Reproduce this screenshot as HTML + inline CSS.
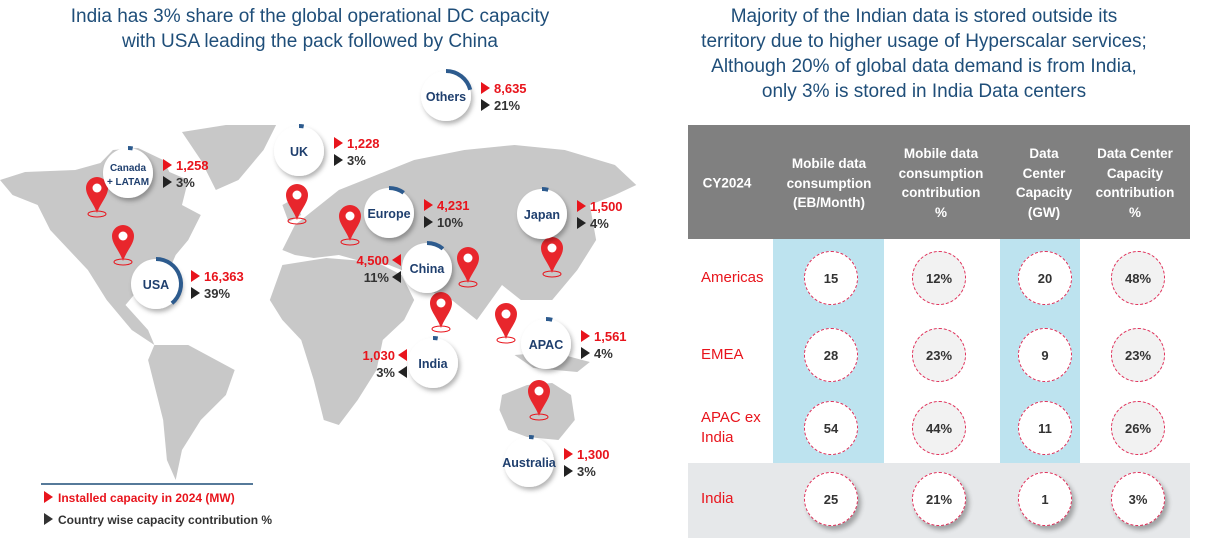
<!DOCTYPE html>
<html><head><meta charset="utf-8">
<style>
body{margin:0;width:1209px;height:541px;background:#fff;font-family:"Liberation Sans",sans-serif;overflow:hidden;position:relative}
.title{position:absolute;text-align:center;color:#1f4e79;font-size:19px;line-height:25px}
.tbl{position:absolute;left:688px;top:125px;width:502px;height:413px}
.hdr{position:absolute;top:0;height:114px;background:#808080;left:0;width:502px}
.hc{position:absolute;color:#fff;font-weight:bold;font-size:13.5px;text-align:center;line-height:19.5px;transform:translate(-50%,-50%)}
.rl{position:absolute;color:#e8141c;font-size:15px;line-height:20px}
.c{position:absolute;width:52px;height:52px;border-radius:50%;border:1.5px dashed #e0305a;transform:translate(-50%,-50%);display:flex;align-items:center;justify-content:center;font-weight:bold;font-size:13px;color:#333}
.lab{position:absolute;font-size:13px;font-weight:bold;white-space:nowrap}
</style></head><body>
<div class="title" style="left:10px;width:600px;top:4px">India has 3% share of the global operational DC capacity<br>with USA leading the pack followed by China</div>
<div class="title" style="left:664px;width:520px;top:4px">Majority of the Indian data is stored outside its<br>territory due to higher usage of Hyperscalar services;<br>Although 20% of global data demand is from India,<br>only 3% is stored in India Data centers</div>

<svg id="map" width="660" height="541" style="position:absolute;left:0;top:0">
<defs><filter id="sh" x="-30%" y="-30%" width="170%" height="170%"><feDropShadow dx="2" dy="3" stdDeviation="2.5" flood-color="#000" flood-opacity="0.3"/></filter></defs>
<g fill="#c8c8c8" transform="scale(1.255,1)">
<polygon points="0,180 20,172 60,170 80,163 90,150 110,148 130,160 135,172 150,180 145,205 160,215 150,240 140,255 132,278 135,300 125,290 110,290 100,305 118,330 123,345 105,330 85,300 70,270 55,250 40,230 30,205 10,195"/>
<polygon points="145,132 180,125 220,125 210,150 190,180 172,190 160,160"/>
<polygon points="123,345 150,345 187,370 180,395 160,420 145,450 140,480 133,460 130,420 122,380 118,360"/>
<polygon points="225,250 235,225 255,205 270,190 300,175 330,160 370,150 410,145 450,150 490,165 507,185 490,195 470,205 475,240 460,270 440,300 415,300 400,285 380,320 360,300 340,290 330,275 310,265 290,262 270,255 250,258 235,255"/>
<polygon points="225,265 260,258 300,262 320,275 330,300 322,320 305,340 300,370 285,400 270,425 258,420 250,380 240,340 225,320 215,300"/>
<polygon points="400,395 420,385 440,383 455,395 458,420 445,440 420,437 405,430 398,410"/>
<polygon points="410,355 440,352 470,362 460,372 425,368"/>
<polygon points="225,205 235,198 240,215 230,222"/>
</g>
<g id="pins"></g><g id="bubbles"></g>
<line x1="41" y1="484" x2="253" y2="484" stroke="#1f4e79" stroke-width="1.5"/>
<polygon points="44,491 44,503 53,497" fill="#e8141c"/>
<text x="58" y="502" font-size="12" font-weight="bold" fill="#e8141c">Installed capacity in 2024 (MW)</text>
<polygon points="44,513 44,525 53,519" fill="#333"/>
<text x="58" y="524" font-size="12" font-weight="bold" fill="#333">Country wise capacity contribution %</text>
</svg>

<div class="tbl" id="tbl">
<div class="hdr"></div>
<div style="position:absolute;left:85px;top:114px;width:111px;height:224px;background:#bde3ef"></div>
<div style="position:absolute;left:312px;top:114px;width:80px;height:224px;background:#bde3ef"></div>
<div style="position:absolute;left:0;top:338px;width:502px;height:75px;background:#e6e8ea"></div>
</div>

<script>
// map data
const regions=["Others","Canada\n+ LATAM","UK","USA","Europe","Japan","China","India","APAC","Australia"];
const capacityMW=["8,635","1,258","1,228","16,363","4,231","1,500","4,500","1,030","1,561","1,300"];
const sharePct=[21,3,3,39,10,4,11,3,4,3];
const bx=[446,128,299,156,389,542,427,433,546,529],by=[96,173,151,284,213,214,268,363,344,462];
const side=[1,1,1,1,1,1,-1,-1,1,1];
const pinX=[97,123,297,350,468,441,506,552,539],pinY=[200,248,207,228,270,315,326,260,403];
const NS="http://www.w3.org/2000/svg";
const pins=document.getElementById('pins'),bub=document.getElementById('bubbles');
function mk(t,a,p){const e=document.createElementNS(NS,t);for(const k in a)e.setAttribute(k,a[k]);p.appendChild(e);return e;}
pinX.forEach((x,i)=>{const y=pinY[i];
 const g=mk('g',{},pins);
 
 
 mk('ellipse',{cx:x,cy:y+14,rx:9,ry:3,fill:'none',stroke:'#e8141c','stroke-width':1},g);
 mk('path',{d:`M${x} ${y+13} C${x-4} ${y+2} ${x-11} ${y-4} ${x-11} ${y-12} A11 11 0 1 1 ${x+11} ${y-12} C${x+11} ${y-4} ${x+4} ${y+2} ${x} ${y+13}Z`,fill:'#e8262c'},g);
 mk('circle',{cx:x,cy:y-12,r:4.5,fill:'#fff'},g);
});
const R=25;
regions.forEach((n,i)=>{const x=bx[i],y=by[i];
 const g=mk('g',{},bub);
 
 
 mk('circle',{cx:x,cy:y,r:R,fill:'#fff',filter:'url(#sh)'},g);
 const f=sharePct[i]/100,a=f*2*Math.PI,ex=x+R*Math.sin(a),ey=y-R*Math.cos(a);
 mk('path',{d:`M${x} ${y-R} A${R} ${R} 0 ${f>0.5?1:0} 1 ${ex} ${ey}`,fill:'none',stroke:'#2d5b8e','stroke-width':4},g);
 const lines=n.split('\n');
 lines.forEach((l,j)=>{const t=mk('text',{x:x,y:y+5+(j-(lines.length-1)/2)*(lines.length>1?14:0),'text-anchor':'middle','font-size':lines.length>1?10:12.5,'font-weight':'bold',fill:'#1f3f6e'},g);t.textContent=l;});
 const s=side[i],ax=s>0?x+R+10:x-R-10;
 const tri=(cy,c)=>mk('polygon',{points:s>0?`${ax},${cy-6} ${ax},${cy+6} ${ax+9},${cy}`:`${ax+9},${cy-6} ${ax+9},${cy+6} ${ax},${cy}`,fill:c},g);
 tri(y-8,'#e8141c');tri(y+9,'#222');
 const tx=s>0?ax+13:ax-3,anc=s>0?'start':'end';
 let t=mk('text',{x:tx,y:y-3,'text-anchor':anc,'font-size':13,'font-weight':'bold',fill:'#e8141c'},g);t.textContent=capacityMW[i];
 t=mk('text',{x:tx,y:y+14,'text-anchor':anc,'font-size':13,'font-weight':'bold',fill:'#333'},g);t.textContent=sharePct[i]+'%';
});
// table data
const headers=["CY2024","Mobile data\nconsumption\n(EB/Month)","Mobile data\nconsumption\ncontribution\n%","Data\nCenter\nCapacity\n(GW)","Data Center\nCapacity\ncontribution\n%"];
const rowNames=["Americas","EMEA","APAC ex\nIndia","India"];
const mobileEB=[15,28,54,25];
const mobilePct=[12,23,44,21];
const dcGW=[20,9,11,1];
const dcPct=[48,23,26,3];
const tbl=document.getElementById('tbl');
const hx=[39,141,253,356,447],cx=[143,251,357,450],ry=[153,230,303,374];
headers.forEach((h,i)=>{const d=document.createElement('div');d.className='hc';d.style.left=hx[i]+'px';d.style.top='58px';d.innerHTML=h.replace(/\n/g,'<br>');
 
 
 tbl.appendChild(d);});
const cols=[mobileEB,mobilePct.map(v=>v+'%'),dcGW,dcPct.map(v=>v+'%')];
rowNames.forEach((r,j)=>{const d=document.createElement('div');d.className='rl';d.style.left='13px';d.style.top=(ry[j]-(r.includes('\n')?20:10))+'px';d.innerHTML=r.replace('\n','<br>');
 
 
 tbl.appendChild(d);
 cols.forEach((c,i)=>{const e=document.createElement('div');e.className='c';e.style.left=cx[i]+'px';e.style.top=ry[j]+'px';
  e.style.background=(j==3||i%2==0)?'#fff':'#f2f2f2';
  if(j==3)e.style.boxShadow='3px 4px 5px rgba(0,0,0,0.3)';
  e.textContent=c[j];
  
  
  tbl.appendChild(e);});
});
</script>
</body></html>
